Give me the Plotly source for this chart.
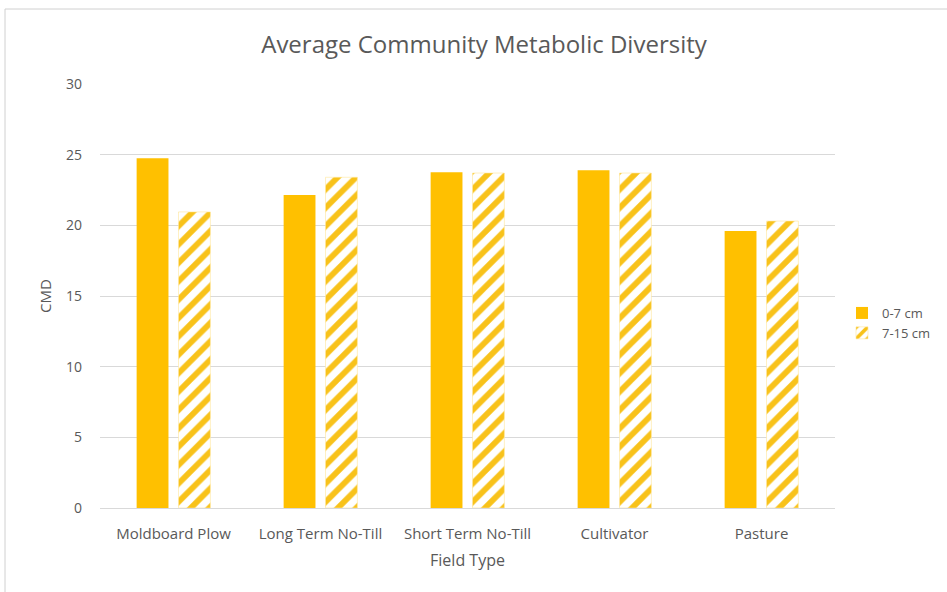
import plotly.graph_objects as go

# Field types and mean community metabolic diversity per sampling depth
field_types = ["Moldboard Plow", "Long Term No-Till", "Short Term No-Till", "Cultivator", "Pasture"]
cmd_0_7 = [24.75, 22.15, 23.75, 23.9, 19.6]
cmd_7_15 = [20.95, 23.4, 23.7, 23.7, 20.3]
y_ticks = [0, 5, 10, 15, 20, 25, 30]

GOLD = "#FFC000"
TEXT = "#595959"
GRID = "#D9D9D9"
FONT = "Open Sans"

W, H = 947, 592
L, R, T, B = 100, 112, 84, 84
pw, ph = W - L - R, H - T - B


def px_to_paper(x, y):
    return (x - L) / pw, (H - B - y) / ph


fig = go.Figure()
fig.add_trace(go.Bar(
    x=field_types, y=cmd_0_7, name="0-7 cm",
    marker=dict(color=GOLD, line=dict(width=0)),
))
fig.add_trace(go.Bar(
    x=field_types, y=cmd_7_15, name="7-15 cm",
    marker=dict(
        color="white",
        line=dict(width=0.6, color="#FFE699"),
        pattern=dict(shape="/", fgcolor="#F8C21A", bgcolor="white", size=13,
                     solidity=0.45, fgopacity=1, fillmode="replace"),
    ),
))

# Outer chart frame
fx0, fy0 = px_to_paper(5, 9)
fx1, fy1 = px_to_paper(W + 5, H + 5)
fig.add_shape(type="rect", xref="paper", yref="paper",
              x0=fx0, y0=fy1, x1=fx1, y1=fy0,
              line=dict(color="#D0D0D0", width=1), fillcolor="rgba(0,0,0,0)",
              layer="below")

fig.update_layout(
    width=W, height=H,
    margin=dict(l=L, r=R, t=T, b=B, autoexpand=False),
    paper_bgcolor="white", plot_bgcolor="white",
    font=dict(family=FONT, color=TEXT, size=13),
    title=dict(text="Average Community Metabolic Diversity",
               x=484 / W, xanchor="center", y=1 - 45 / H, yanchor="middle",
               font=dict(size=24, color=TEXT, family=FONT)),
    barmode="group", bargap=0.43, bargroupgap=0.24,
    showlegend=True,
    legend=dict(x=px_to_paper(842, 0)[0], xanchor="left",
                y=px_to_paper(0, 323)[1], yanchor="middle",
                font=dict(size=13, color=TEXT), itemwidth=30,
                tracegroupgap=0, bgcolor="rgba(0,0,0,0)"),
    xaxis=dict(
        title=dict(text="Field Type", font=dict(size=16, color=TEXT), standoff=12),
        showgrid=False, showline=True, linecolor=GRID, linewidth=1,
        ticks="", tickfont=dict(size=15, color=TEXT), ticklabelstandoff=12,
    ),
    yaxis=dict(
        title=dict(text="CMD", font=dict(size=15, color=TEXT), standoff=10),
        range=[0, 30], tickvals=y_ticks, showgrid=True, gridcolor=GRID, gridwidth=1,
        zeroline=False, showline=False, ticks="", tickfont=dict(size=14, color=TEXT),
        ticklabelstandoff=17,
    ),
)

fig.write_html("out.html")
